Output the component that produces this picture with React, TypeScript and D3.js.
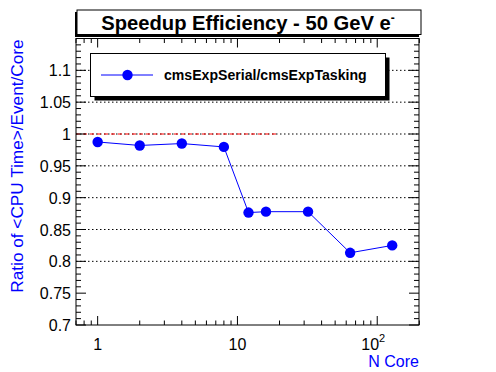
import React from "react";
import * as d3 from "d3";

const nCores = [1, 2, 4, 8, 12, 16, 32, 64, 128];
const ratios = [0.9875, 0.982, 0.985, 0.9797, 0.8766, 0.878, 0.878, 0.8134, 0.825];
const yTicks = [0.7, 0.75, 0.8, 0.85, 0.9, 0.95, 1, 1.05, 1.1];
const gridVals = [0.8, 0.85, 0.9, 0.95, 1, 1.05, 1.1];
const xMajor = [1, 10, 100];
const xMinor = [0.7, 0.8, 0.9, 2, 3, 4, 5, 6, 7, 8, 9, 20, 30, 40, 50, 60, 70, 80, 90, 200];
const titleText = "Speedup Efficiency - 50 GeV e";
const legendLabel = "cmsExpSerial/cmsExpTasking";
const xTitle = "N Core";
const yTitle = "Ratio of <CPU Time>/Event/Core";

const W = 496, H = 372;
const L = 76, R = 419, T = 38.5, B = 325;
const FONT = "'Liberation Sans', Arial, Helvetica, sans-serif";

export default function App() {
  const x = d3.scaleLog().domain([0.7, 199]).range([L, R]);
  const y = d3.scaleLinear().domain([0.7, 1.15]).range([B, T]);
  const line = d3.line<number>().x((_, i) => x(nCores[i])).y((d) => y(d));
  const yMinor = d3.range(0.7, 1.1501, 0.01).map((v) => +v.toFixed(2));

  return (
    <svg width={W} height={H} style={{ position: "absolute", left: 0, top: 0, background: "#fff" }} fontFamily={FONT}>
      <rect x={0} y={0} width={W} height={H} fill="#fff" />
      {/* Title box with shadow */}
      <rect x={75} y={12} width={344} height={25} fill="#000" />
      <rect x={77} y={10} width={344} height={24.5} fill="#fff" stroke="#000" strokeWidth={1} />
      <text x={248} y={29.5} textAnchor="middle" fontSize={20.2} fontWeight="bold">
        {titleText}
        <tspan dy={-8} fontSize={12}>-</tspan>
      </text>

      {/* grid */}
      {gridVals.map((v) => (
        <line key={"g" + v} x1={L} x2={R} y1={y(v)} y2={y(v)} stroke="#000" strokeWidth={1} strokeDasharray="1.5,2.5" />
      ))}

      {/* red dashed line at 1 */}
      <line x1={x(0.7)} x2={x(19.5)} y1={y(1)} y2={y(1)} stroke="#ff0000" strokeWidth={1} strokeDasharray="4,3" />

      {/* frame */}
      <rect x={L} y={T} width={R - L} height={B - T} fill="none" stroke="#000" strokeWidth={1} />

      {/* y ticks left and right */}
      {yMinor.map((v) => {
        const major = Math.abs(Math.round(v * 20) - v * 20) < 1e-6;
        const len = major ? 10 : 5;
        return (
          <g key={"yt" + v}>
            <line x1={L} x2={L + len} y1={y(v)} y2={y(v)} stroke="#000" />
            <line x1={R} x2={R - len} y1={y(v)} y2={y(v)} stroke="#000" />
          </g>
        );
      })}
      {yTicks.map((v) => (
        <text key={"yl" + v} x={71} y={y(v) + 6} textAnchor="end" fontSize={16}>
          {String(v)}
        </text>
      ))}

      {/* x ticks */}
      {xMajor.map((v) => (
        <g key={"xM" + v}>
          <line x1={x(v)} x2={x(v)} y1={B} y2={B - 9} stroke="#000" />
          <line x1={x(v)} x2={x(v)} y1={T} y2={T + 9} stroke="#000" />
        </g>
      ))}
      {xMinor.map((v) => (
        <g key={"xm" + v}>
          <line x1={x(v)} x2={x(v)} y1={B} y2={B - 4.5} stroke="#000" />
          <line x1={x(v)} x2={x(v)} y1={T} y2={T + 4.5} stroke="#000" />
        </g>
      ))}
      <text x={x(1)} y={350} textAnchor="middle" fontSize={16}>1</text>
      <text x={x(10)} y={350} textAnchor="middle" fontSize={16}>10</text>
      <text x={x(100) - 4} y={350} textAnchor="middle" fontSize={16}>
        10<tspan dy={-8} fontSize={11}>2</tspan>
      </text>

      {/* axis titles */}
      <text x={R} y={367} textAnchor="end" fontSize={16} fill="#0000ff">{xTitle}</text>
      <text transform={`translate(23,${T + 1}) rotate(-90)`} textAnchor="end" fontSize={17.2} fill="#0000ff">{yTitle}</text>

      {/* data */}
      <path d={line(ratios) || ""} fill="none" stroke="#0000ff" strokeWidth={1} />
      {ratios.map((v, i) => (
        <circle key={"p" + i} cx={x(nCores[i])} cy={y(v)} r={5.2} fill="#0000ff" />
      ))}

      {/* legend */}
      <rect x={94.5} y={57.5} width={295} height={43} fill="#000" />
      <rect x={90.5} y={53.5} width={295} height={43} fill="#fff" stroke="#000" strokeWidth={1} />
      <line x1={101} x2={153} y1={75} y2={75} stroke="#0000ff" />
      <circle cx={127.5} cy={75} r={5.2} fill="#0000ff" />
      <text x={164} y={80} fontSize={14.1} fontWeight="bold">{legendLabel}</text>
    </svg>
  );
}
